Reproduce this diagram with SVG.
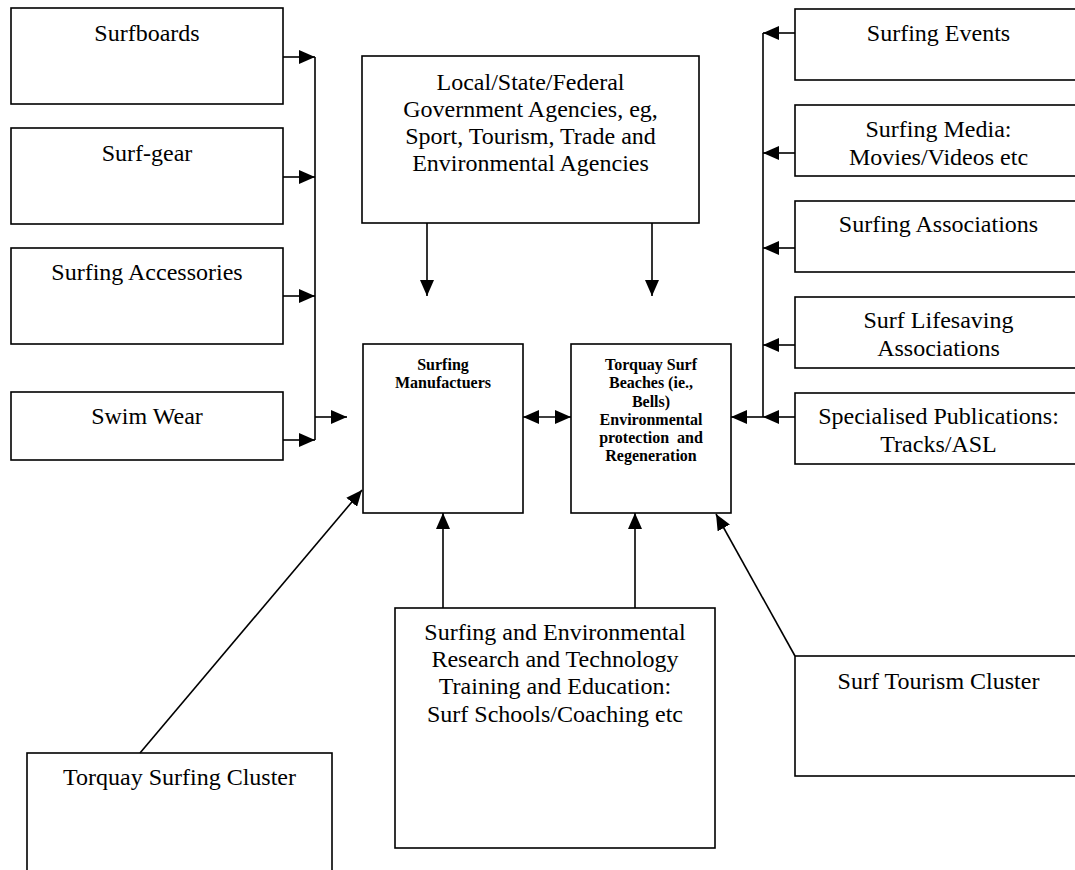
<svg xmlns="http://www.w3.org/2000/svg" width="1075" height="870" viewBox="0 0 1075 870">
<style>
.box{fill:#fff;stroke:#000;stroke-width:1.6}
.t{font-family:"Liberation Serif","Times New Roman",serif;font-size:24px;fill:#000;text-anchor:middle}
.b{font-family:"Liberation Serif","Times New Roman",serif;font-size:16px;font-weight:bold;fill:#000;text-anchor:middle;white-space:pre}
.c{fill:none;stroke:#000;stroke-width:1.6}
</style>
<defs>
<marker id="ah" markerUnits="userSpaceOnUse" markerWidth="16" markerHeight="14" refX="16" refY="7" orient="auto-start-reverse" viewBox="0 0 16 14">
<path d="M0,0 L16,7 L0,14 z" fill="#000"/>
</marker>
</defs>
<rect width="1075" height="870" fill="#fff"/>

<g id="surfboards"><rect class="box" x="11" y="8" width="272" height="96"/><text class="t" x="147" y="41">Surfboards</text></g>
<g id="surfgear"><rect class="box" x="11" y="128" width="272" height="96"/><text class="t" x="147" y="161">Surf-gear</text></g>
<g id="accessories"><rect class="box" x="11" y="248" width="272" height="96"/><text class="t" x="147" y="280">Surfing Accessories</text></g>
<g id="swimwear"><rect class="box" x="11" y="392" width="272" height="68"/><text class="t" x="147" y="424">Swim Wear</text></g>

<g id="government"><rect class="box" x="362" y="56" width="337" height="167"/>
<text class="t" x="530.5" y="90">Local/State/Federal</text>
<text class="t" x="530.5" y="117">Government Agencies, eg,</text>
<text class="t" x="530.5" y="144">Sport, Tourism, Trade and</text>
<text class="t" x="530.5" y="171">Environmental Agencies</text></g>

<g id="manufacturers"><rect class="box" x="363" y="344" width="160" height="169"/>
<text class="b" x="443" y="370">Surfing</text>
<text class="b" x="443" y="388.3">Manufactuers</text></g>

<g id="beaches"><rect class="box" x="571" y="344" width="160" height="169"/>
<text class="b" x="651" y="370">Torquay Surf</text>
<text class="b" x="651" y="388.3">Beaches (ie.,</text>
<text class="b" x="651" y="406.5">Bells)</text>
<text class="b" x="651" y="424.7">Environmental</text>
<text class="b" x="651" y="443">protection  and</text>
<text class="b" x="651" y="461.2">Regeneration</text></g>

<g id="events"><rect class="box" x="795" y="9" width="287" height="71"/><text class="t" x="938.5" y="41">Surfing Events</text></g>
<g id="media"><rect class="box" x="795" y="105" width="287" height="71"/><text class="t" x="938.5" y="137">Surfing Media:</text><text class="t" x="938.5" y="164.5">Movies/Videos etc</text></g>
<g id="associations"><rect class="box" x="795" y="201" width="287" height="71"/><text class="t" x="938.5" y="232">Surfing Associations</text></g>
<g id="lifesaving"><rect class="box" x="795" y="297" width="287" height="71"/><text class="t" x="938.5" y="328">Surf Lifesaving</text><text class="t" x="938.5" y="356">Associations</text></g>
<g id="publications"><rect class="box" x="795" y="393" width="287" height="71"/><text class="t" x="938.5" y="424">Specialised Publications:</text><text class="t" x="938.5" y="452">Tracks/ASL</text></g>

<g id="research"><rect class="box" x="395" y="608" width="320" height="240"/>
<text class="t" x="555" y="640">Surfing and Environmental</text>
<text class="t" x="555" y="667">Research and Technology</text>
<text class="t" x="555" y="694">Training and Education:</text>
<text class="t" x="555" y="722">Surf Schools/Coaching etc</text></g>

<g id="torquaycluster"><rect class="box" x="27" y="753" width="305" height="130"/><text class="t" x="179.5" y="785">Torquay Surfing Cluster</text></g>
<g id="tourism"><rect class="box" x="795" y="656" width="287" height="120"/><text class="t" x="938.5" y="689">Surf Tourism Cluster</text></g>

<g id="connectors" class="c">
<line x1="283" y1="57" x2="315" y2="57" marker-end="url(#ah)"/>
<line x1="283" y1="177" x2="315" y2="177" marker-end="url(#ah)"/>
<line x1="283" y1="296" x2="315" y2="296" marker-end="url(#ah)"/>
<line x1="283" y1="440" x2="315" y2="440" marker-end="url(#ah)"/>
<line x1="315" y1="57" x2="315" y2="440"/>
<line x1="315" y1="417" x2="347" y2="417" marker-end="url(#ah)"/>
<line x1="427" y1="223" x2="427" y2="296" marker-end="url(#ah)"/>
<line x1="652" y1="223" x2="652" y2="296" marker-end="url(#ah)"/>
<line x1="523" y1="417" x2="571" y2="417" marker-start="url(#ah)" marker-end="url(#ah)"/>
<line x1="795" y1="33" x2="763" y2="33" marker-end="url(#ah)"/>
<line x1="795" y1="153" x2="763" y2="153" marker-end="url(#ah)"/>
<line x1="795" y1="248" x2="763" y2="248" marker-end="url(#ah)"/>
<line x1="795" y1="345" x2="763" y2="345" marker-end="url(#ah)"/>
<line x1="795" y1="417" x2="763" y2="417" marker-end="url(#ah)"/>
<line x1="763" y1="33" x2="763" y2="417"/>
<line x1="763" y1="417" x2="731" y2="417" marker-end="url(#ah)"/>
<line x1="443" y1="608" x2="443" y2="513" marker-end="url(#ah)"/>
<line x1="635" y1="608" x2="635" y2="513" marker-end="url(#ah)"/>
<line x1="140" y1="753" x2="362" y2="490" marker-end="url(#ah)"/>
<line x1="795" y1="656" x2="716" y2="514" marker-end="url(#ah)"/>
</g>
</svg>
